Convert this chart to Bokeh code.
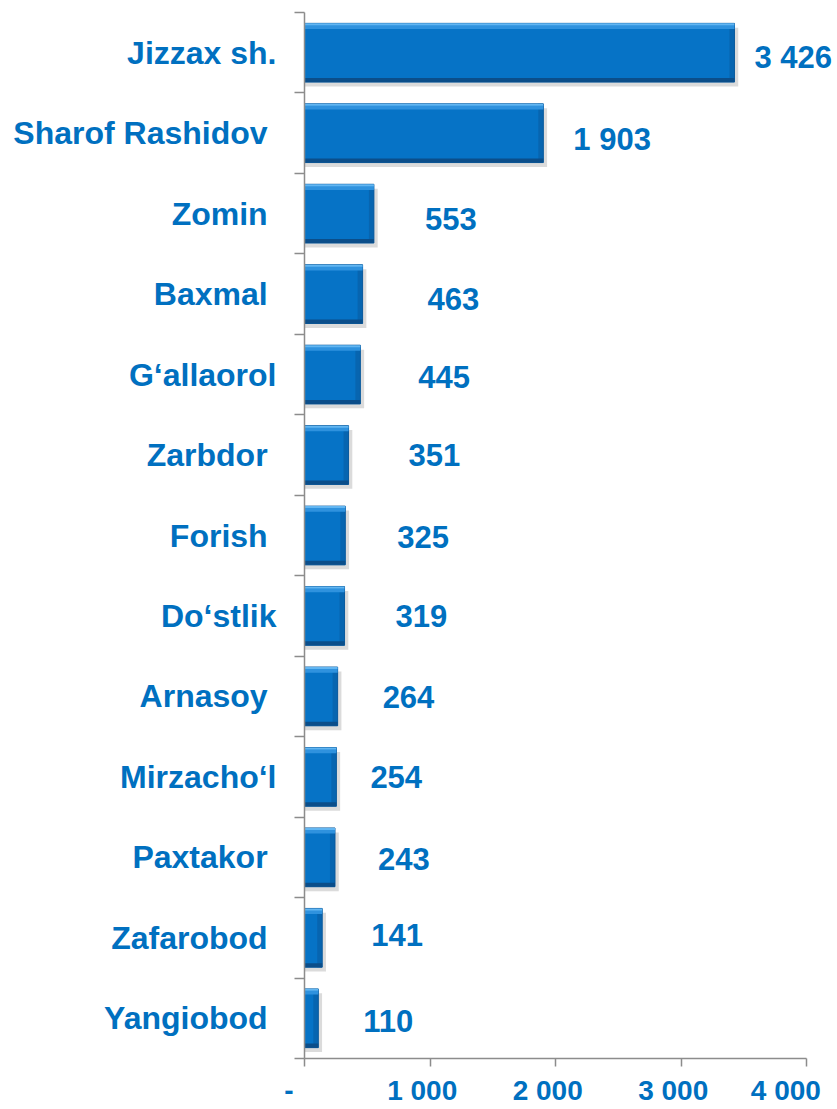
from bokeh.plotting import figure
from bokeh.models import Range1d, FixedTicker, ColumnDataSource, LinearAxis
from bokeh.core.properties import value
from bokeh.embed import file_html
from bokeh.resources import INLINE

# ---- data ----
districts = ["Jizzax sh.", "Sharof Rashidov", "Zomin", "Baxmal", "G\u2018allaorol",
             "Zarbdor", "Forish", "Do\u2018stlik", "Arnasoy", "Mirzacho\u2018l",
             "Paxtakor", "Zafarobod", "Yangiobod"]
counts = [3426, 1903, 553, 463, 445, 351, 325, 319, 264, 254, 243, 141, 110]
count_labels = ["3 426", "1 903", "553", "463", "445", "351", "325", "319",
                "264", "254", "243", "141", "110"]
x_ticks = [0, 1000, 2000, 3000, 4000]
x_tick_labels = ["-", "1 000", "2 000", "3 000", "4 000"]

# ---- style (label placement as in the original) ----
label_dx = [20, 30, 51, 65, 58, 60, 52, 51, 45, 34, 43, 49, 45]
label_dy = [5, 6, 5, 5, 2, 0, 1, 0, 1, 0, 2, -3, 3]
name_pad = [False, True, True, True, False, True, True, False, True, False, True, True, True]
tick_pad = [4, 2, 2, 2, 2]

BLUE = "#0070C0"
FONT = "Liberation Sans"
NB = "\u00a0"

W, H = 836, 1108
LEFT, TOP, BOTTOM = 304, 12, 48
AXIS_PX = 502  # pixels spanned by 0..4000
x_end = x_ticks[-1] * (W - LEFT) / AXIS_PX
EDGE = 5 * x_ticks[-1] / AXIS_PX  # ~5 px bevel at the bar end

n = len(districts)
centers = [n - i - 0.5 for i in range(n)]
BH = 0.73

src = ColumnDataSource(dict(
    y=centers,
    v=counts,
    lab=count_labels,
    dx=label_dx,
    dy=label_dy,
    y_shadow=[c - 0.055 for c in centers],
    v_shadow=[v + 30 for v in counts],
    v_edge=[v - EDGE for v in counts],
    y_top1=[c + BH / 2 - 0.012 for c in centers],
    y_top2=[c + BH / 2 - 0.045 for c in centers],
    y_bot=[c - BH / 2 + 0.025 for c in centers],
))

p = figure(width=W, height=H, output_backend="svg", toolbar_location=None,
           x_range=Range1d(0, x_end), y_range=Range1d(0, n),
           min_border_left=LEFT, min_border_right=0, min_border_top=TOP,
           min_border_bottom=BOTTOM, x_axis_type=None, y_axis_type=None)
p.outline_line_color = None
p.xgrid.visible = False
p.ygrid.visible = False
p.background_fill_color = "white"
p.border_fill_color = "white"

# shadow
p.hbar(y="y_shadow", left=0, right="v_shadow", height=BH, source=src,
       fill_color="#7f7f7f", fill_alpha=0.28, line_color=None)
# main bar
p.hbar(y="y", left=0, right="v", height=BH, source=src,
       fill_color="#0673C6", line_color="#0B5A9C", line_width=1)
# bevel: darker right end
p.hbar(y="y", left="v_edge", right="v", height=BH, source=src,
       fill_color="#0A5A9E", fill_alpha=0.55, line_color=None)
# bevel highlights
p.hbar(y="y_top2", left=0, right="v", height=0.05, source=src,
       fill_color="#2F92DE", line_color=None)
p.hbar(y="y_top1", left=0, right="v", height=0.025, source=src,
       fill_color="#62B6F2", line_color=None)
p.hbar(y="y_bot", left=0, right="v", height=0.05, source=src,
       fill_color="#0B4E8A", line_color=None)

# value labels
p.text(x="v", y="y", text="lab", x_offset="dx", y_offset="dy", source=src,
       text_font=value(FONT), text_font_style="bold", text_font_size="31px",
       text_color=BLUE, text_align="left", text_baseline="middle")

# axes
xa = LinearAxis(ticker=FixedTicker(ticks=x_ticks), bounds=(x_ticks[0], x_ticks[-1]))
xa.major_label_overrides = {t: lab + NB * pad for t, lab, pad in zip(x_ticks, x_tick_labels, tick_pad)}
xa.axis_line_color = "#8C8C8C"
xa.axis_line_width = 1.5
xa.major_tick_line_color = "#8C8C8C"
xa.major_tick_line_width = 1.5
xa.major_tick_in = 0
xa.major_tick_out = 8
xa.minor_tick_line_color = None
xa.major_label_standoff = 8
xa.major_label_text_font = FONT
xa.major_label_text_font_style = "bold"
xa.major_label_text_font_size = "28px"
xa.major_label_text_color = BLUE
p.add_layout(xa, "below")

ya = LinearAxis(ticker=FixedTicker(ticks=centers, minor_ticks=list(range(n + 1))))
ya.major_label_overrides = {c: d + (NB if pad else "") for c, d, pad in zip(centers, districts, name_pad)}
ya.axis_line_color = "#8C8C8C"
ya.axis_line_width = 1.5
ya.major_tick_line_color = None
ya.major_tick_in = 0
ya.major_tick_out = 10
ya.minor_tick_line_color = "#8C8C8C"
ya.minor_tick_line_width = 1.5
ya.minor_tick_in = 0
ya.minor_tick_out = 10
ya.major_label_standoff = 18
ya.major_label_text_font = FONT
ya.major_label_text_font_style = "bold"
ya.major_label_text_font_size = "32px"
ya.major_label_text_color = BLUE
p.add_layout(ya, "left")

open("out.html", "w").write(file_html(p, INLINE))
